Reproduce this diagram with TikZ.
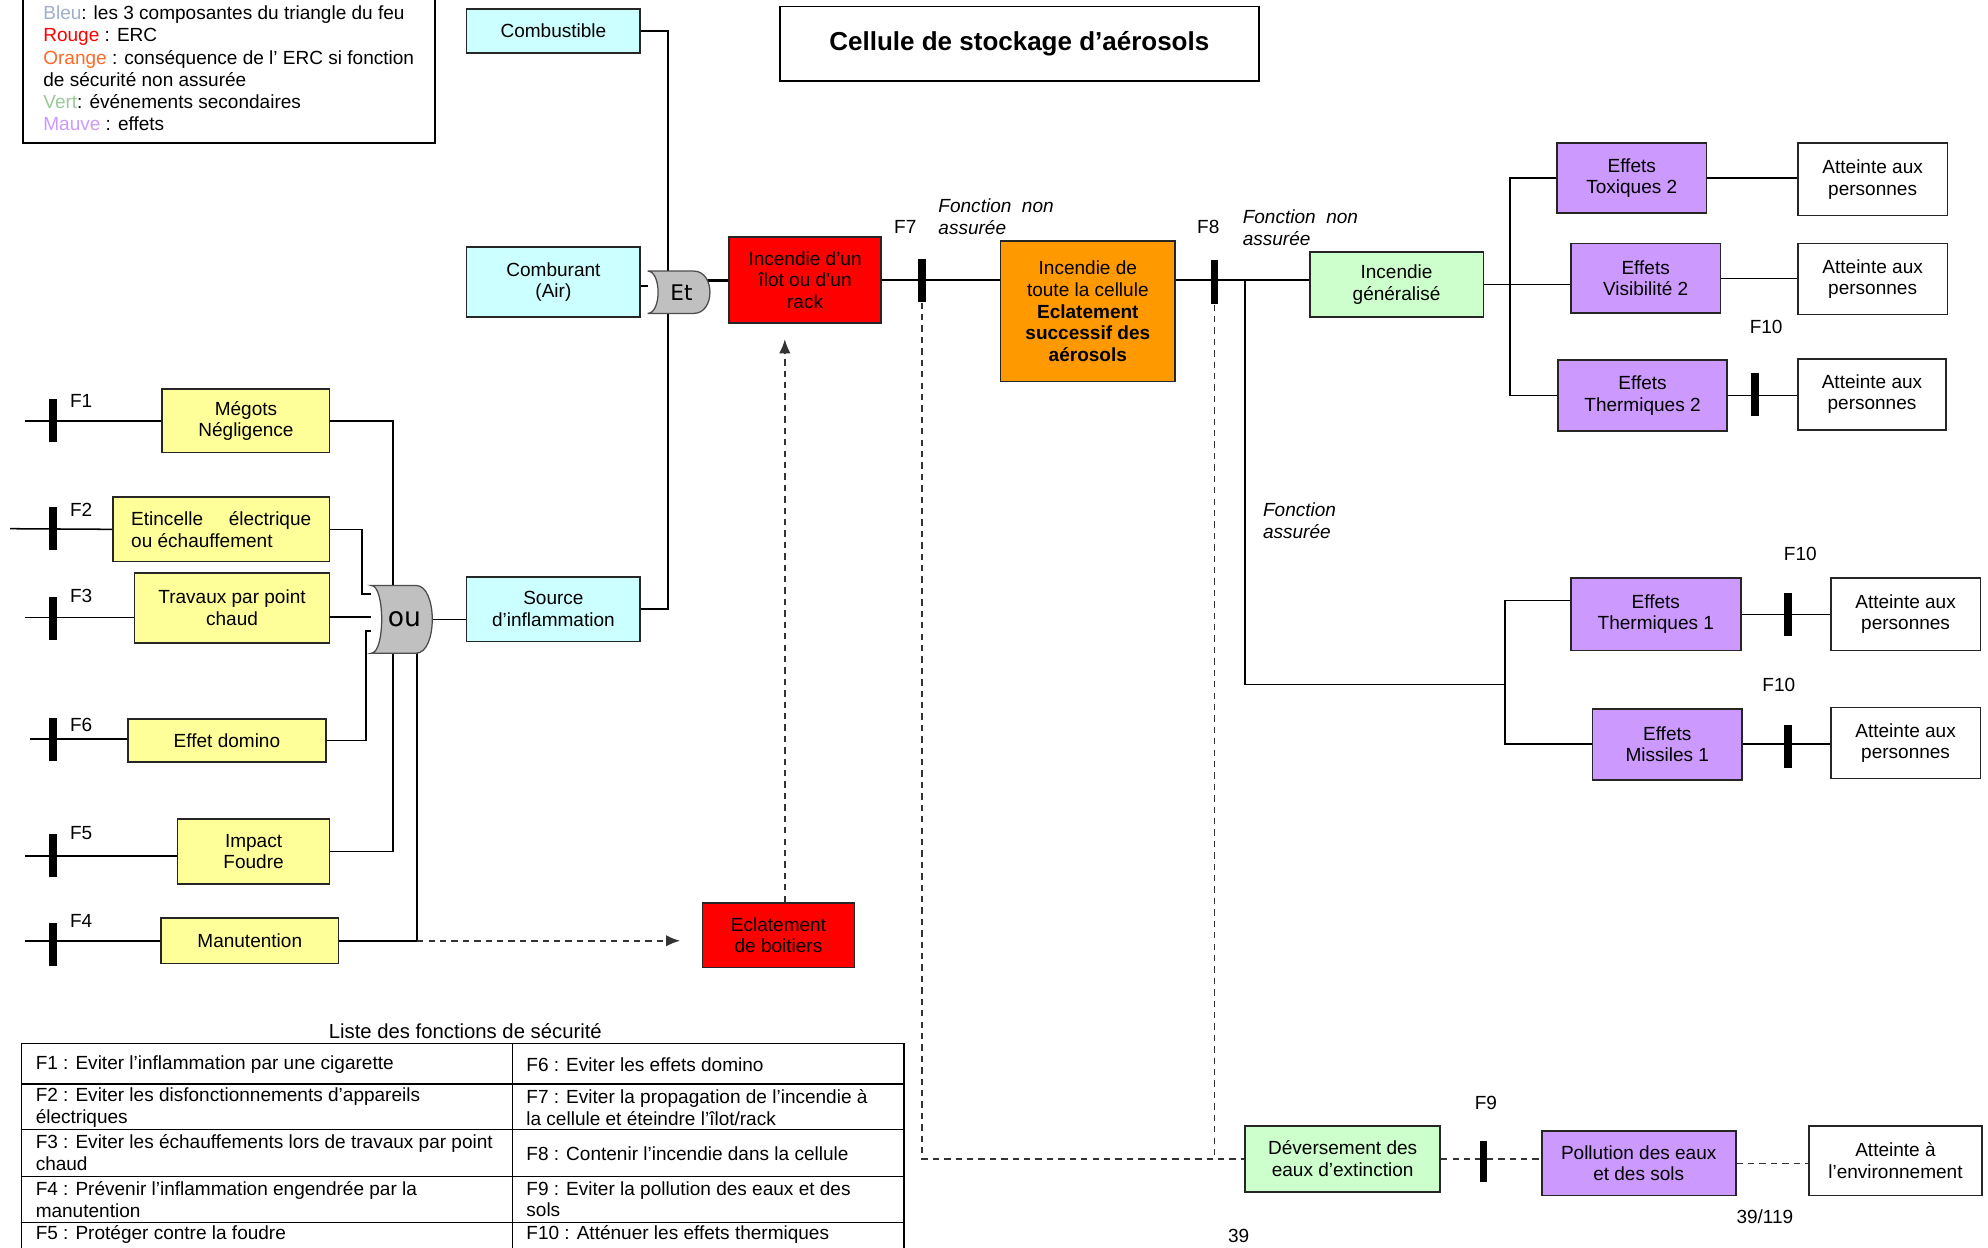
\documentclass[tikz,border=0pt]{standalone}
\usepackage{fontspec}
\setmainfont{Liberation Sans}
\newfontfamily\gatefont{DejaVu Sans}
\usetikzlibrary{arrows.meta, positioning, calc}

\definecolor{BleuComp}{HTML}{CCFFFF}
\definecolor{JauneCause}{HTML}{FFFF99}
\definecolor{RougeERC}{HTML}{FF0000}
\definecolor{OrangeCons}{HTML}{FF9900}
\definecolor{VertSec}{HTML}{CCFFCC}
\definecolor{MauveEff}{HTML}{CC99FF}
\definecolor{GrisPorte}{HTML}{C0C0C0}
\definecolor{LegBleu}{HTML}{9FB0C8}
\definecolor{LegOrange}{HTML}{FF6A2A}
\definecolor{LegVert}{HTML}{9CC99C}

\tikzset{
    boxbase/.style={draw=black!85, line width=1.3pt, align=center, inner sep=2pt,
        font=\fontsize{15}{17}\selectfont},
    dims/.style 2 args={minimum width=#1, minimum height=#2},
    comp/.style={boxbase, fill=BleuComp},
    cause/.style={boxbase, fill=JauneCause},
    erc/.style={boxbase, fill=RougeERC},
    conseq/.style={boxbase, fill=OrangeCons},
    secondaire/.style={boxbase, fill=VertSec},
    effet/.style={boxbase, fill=MauveEff},
    cible/.style={boxbase, fill=white},
    barrier/.style={fill=black, inner sep=0pt, minimum width=6pt, minimum height=34pt},
    flabel/.style={font=\fontsize{15}{17}\selectfont, inner sep=0pt},
    note/.style={font=\fontsize{15}{17}\selectfont\itshape, align=left, inner sep=0pt, anchor=west},
    link/.style={line width=1.2pt, draw=black},
    dashlink/.style={line width=1.2pt, draw=black!80, dash pattern=on 5pt off 4pt},
    gatebox/.style={inner sep=0pt},
    gateshape/.style={fill=GrisPorte, draw=black!70, line width=1pt},
    cell/.style={font=\fontsize{15}{17}\selectfont, align=left, anchor=west, inner sep=0pt}
}

\begin{document}
\begin{tikzpicture}[
    x=1pt, y=-1pt,   % one unit = one pixel of the page, y going down
    >=Latex
]
    \fill[white] (0,0) rectangle (1568,984);
    \useasboundingbox (0,0) rectangle (1568,984);

    % --- 1. Legend and title ---
    \draw[line width=1.3pt] (18,-30) rectangle (343,113);
    \node[align=left, anchor=north west, inner sep=0pt, font=\fontsize{15}{17.5}\selectfont] (legende) at (34,4.5)
        {{\color{LegBleu}Bleu}: les 3 composantes du triangle du feu\\
         {\color{red}Rouge} : ERC\\
         {\color{LegOrange}Orange} : conséquence de l’ ERC si fonction\\
         de sécurité non assurée\\
         {\color{LegVert}Vert}: événements secondaires\\
         {\color{MauveEff}Mauve} : effets};

    \node[draw, line width=1.3pt, dims={378}{59}, font=\fontsize{20.5}{24}\selectfont\bfseries] (titre)
        at (804,34.5) {Cellule de stockage d’aérosols};

    % --- 2. Fire triangle ---
    \node[comp, dims={137}{35}] (comb) at (436.5,24.5) {Combustible};
    \node[comp, dims={137}{55}] (air) at (436.5,222.5) {Comburant\\(Air)};
    \node[comp, dims={137}{51}] (source) at (436.5,480.5) {Source\\d’inflammation};

    % gate placeholders (shapes drawn at the end)
    \node[gatebox, dims={49}{33}] (et) at (535.5,230.5) {};
    \node[gatebox, dims={48}{53}] (ou) at (317,488.5) {};

    % --- 3. Causes of ignition ---
    \node[cause, dims={132}{50}] (megots) at (194,332) {Mégots\\Négligence};
    \node[cause, dims={171}{51}, align=left] (etinc) at (174.5,417.5)
        {\makebox[142pt][s]{Etincelle électrique}\\ou échauffement};
    \node[cause, dims={154}{55}] (travaux) at (183,479.5) {Travaux par point\\chaud};
    \node[cause, dims={156}{34}] (domino) at (179,584) {Effet domino};
    \node[cause, dims={120}{51}] (foudre) at (200,671.5) {Impact\\Foudre};
    \node[cause, dims={140}{36}] (manu) at (197,742) {Manutention};

    % barriers F1..F6
    \node[barrier] (b1) at (42,332) {};
    \node[barrier] (b2) at (42,417) {};
    \node[barrier] (b3) at (42,487.5) {};
    \node[barrier] (b6) at (42,583.5) {};
    \node[barrier] (b5) at (42,675) {};
    \node[barrier] (b4) at (42,745) {};

    \node[flabel] (lf1) at (64,316) {F1};
    \node[flabel] (lf2) at (64,402) {F2};
    \node[flabel] (lf3) at (64,470) {F3};
    \node[flabel] (lf6) at (64,572) {F6};
    \node[flabel] (lf5) at (64,657) {F5};
    \node[flabel] (lf4) at (64,726) {F4};

    % free ends on the left
    \coordinate (e1) at (20,332);
    \coordinate (e2) at (8,417);
    \coordinate (e3) at (20,487);
    \coordinate (e6) at (24,583);
    \coordinate (e5) at (20,675);
    \coordinate (e4) at (20,742);

    \draw[link] (e1) -- (megots.west);
    \draw[link] (e2) -- (etinc.west);
    \draw[link] (e3) -- (e3 -| travaux.west);
    \draw[link] (e6) -- (e6 -| domino.west);
    \draw[link] (e5) -- (e5 -| foudre.west);
    \draw[link] (e4) -- (manu.west);

    % causes into the "ou" gate
    \coordinate (ou4) at ([xshift=12pt]ou.south);
    \draw[link] (megots.east) -| ([xshift=-7pt]ou.north);
    \draw[link] (etinc.east) -- ++(25,0) |- ([yshift=20pt]ou.west);
    \draw[link] ([yshift=-7pt]travaux.east) -- ([yshift=-7pt]travaux.east -| ou.west);
    \draw[link] (domino.east) -- ++(31,0) |- ([yshift=-9pt]ou.west);
    \draw[link] (foudre.east) -| ([xshift=-7pt]ou.south);
    \draw[link] (manu.east) -| (ou4);
    \draw[link] (ou.east) -- (ou.east -| source.west);

    % fire triangle into the "Et" gate
    \coordinate (trunk) at (527,0);
    \draw[link] (comb.east) -- (comb.east -| trunk) -- (source.east -| trunk) -- (source.east);
    \draw[link] ([yshift=-3pt]air.east) -- ([yshift=-3pt]air.east -| et.west);

    % --- 4. Main sequence ---
    \node[erc, dims={120}{68}] (ilot) at (635,221) {Incendie d’un\\îlot ou d’un\\rack};
    \node[erc, dims={120}{51}] (boit) at (614,737.5) {Eclatement\\de boitiers};
    \node[conseq, dims={138}{111}] (cellule) at (858,245.5)
        {Incendie de\\toute la cellule\\\textbf{Eclatement}\\\textbf{successif des}\\\textbf{aérosols}};
    \node[secondaire, dims={137}{51}] (gen) at (1101.5,224.5) {Incendie\\généralisé};

    \draw[line width=2.2pt] (et.center |- ilot.west) -- (ilot.west);
    \draw[link] (ilot.east) -- (ilot.east -| cellule.west);
    \draw[link] (ilot.east -| cellule.east) -- (ilot.east -| gen.west);

    \node[barrier] (b7) at (727,221.5) {};
    \node[barrier, minimum height=35pt] (b8) at (958,222.5) {};
    \node[flabel] (lf7) at (714,179) {F7};
    \node[flabel] (lf8) at (953,179) {F8};
    \node[note] (n7) at (740,171) {Fonction\ \ non\\assurée};
    \node[note] (n8) at (980,179.5) {Fonction\ \ non\\assurée};
    \node[note] (n9) at (996,410.5) {Fonction\\assurée};

    % handling -> bursting of cans -> fire
    \coordinate (bt) at ([xshift=5pt]boit.north);
    \draw[dashlink, -{Latex[length=11pt,width=9pt]}, shorten >=17pt] (ou4 |- manu.east) -- (manu.east -| boit.west);
    \draw[dashlink, -{Latex[length=11pt,width=9pt]}, shorten >=12pt] (bt) -- (bt |- ilot.south);

    % --- 5. Effects ---
    \node[effet, dims={118}{55}] (tox) at (1287,140.5) {Effets\\Toxiques 2};
    \node[effet, dims={118}{55}] (visi) at (1298,219.5) {Effets\\Visibilité 2};
    \node[effet, dims={133}{56}] (therm2) at (1295.5,312) {Effets\\Thermiques 2};
    \node[effet, dims={134}{57}] (therm1) at (1306,484.5) {Effets\\Thermiques 1};
    \node[effet, dims={118}{56}] (missiles) at (1315,587) {Effets\\Missiles 1};

    \node[cible, dims={118}{57}] (pers1) at (1477,141.5) {Atteinte aux\\personnes};
    \node[cible, dims={118}{56}] (pers2) at (1477,220) {Atteinte aux\\personnes};
    \node[cible, dims={117}{56}] (pers3) at (1476.5,311) {Atteinte aux\\personnes};
    \node[cible, dims={118}{57}] (pers4) at (1503,484.5) {Atteinte aux\\personnes};
    \node[cible, dims={118}{56}] (pers5) at (1503,586) {Atteinte aux\\personnes};

    \coordinate (sp2) at (1191,221);
    \draw[link] (gen.east) -- (gen.east -| visi.west);
    \draw[link] (tox.west) -| (sp2) |- (therm2.west);

    \coordinate (fa) at (982,221);
    \coordinate (sp1) at (1187,540);
    \draw[link] (fa) |- (sp1);
    \draw[link] ([yshift=11pt]therm1.west) -| (sp1) |- (missiles.west);

    \draw[link] (tox.east) -- (tox.east -| pers1.west);
    \draw[link] (visi.east) -- (visi.east -| pers2.west);
    \draw[link] (therm2.east) -- (therm2.east -| pers3.west);
    \draw[link] (therm1.east) -- (therm1.east -| pers4.west);
    \draw[link] (missiles.east) -- (missiles.east -| pers5.west);

    \node[barrier] (b10a) at (1384,311.5) {};
    \node[barrier] (b10b) at (1410,484.5) {};
    \node[barrier] (b10c) at (1410,589) {};
    \node[flabel] (lf10a) at (1393,258) {F10};
    \node[flabel] (lf10b) at (1420,437) {F10};
    \node[flabel] (lf10c) at (1403,540) {F10};

    % --- 6. Extinction water ---
    \node[secondaire, dims={154}{52}] (dev) at (1059,914) {Déversement des\\eaux d’extinction};
    \node[effet, dims={153}{51}] (pol) at (1292.5,917.5) {Pollution des eaux\\et des sols};
    \node[cible, dims={136}{55}] (env) at (1495,915.5) {Atteinte à\\l’environnement};

    \draw[dashlink] (b7.south) |- (dev.west);
    \draw[dashlink] (b8.south) -- (b8.south |- dev.west);
    \draw[dashlink] (dev.east) -- (dev.east -| pol.west);
    \draw[dashlink] (pol.east) -- (pol.east -| env.west);

    \node[barrier, minimum height=32pt] (b9) at (1170,916) {};
    \node[flabel] (lf9) at (1172,870) {F9};

    % --- 7. Gates (drawn over the lines) ---
    \foreach \g/\lab/\fs in {et/Et/17, ou/ou/21}{
        \draw[gateshape] (\g.north west) -- ([xshift=-13pt]\g.north east)
            .. controls ([xshift=4pt]\g.north east) and ([xshift=4pt]\g.south east) .. ([xshift=-13pt]\g.south east)
            -- (\g.south west)
            .. controls ([xshift=11pt]\g.south west) and ([xshift=11pt]\g.north west) .. cycle;
        \node[inner sep=0pt, font=\gatefont\fontsize{\fs}{\fs}\selectfont] (\g-txt) at ([xshift=2pt]\g.center) {\lab};
    }

    % --- 8. Table of safety functions ---
    \node[font=\fontsize{16}{18}\selectfont] (liste) at (367,813) {Liste des fonctions de sécurité};
    \draw[line width=1.3pt] (17,823) -- (713,823);
    \foreach \y in {855,891,928,964}
        \draw[line width=1pt] (17,\y) -- (713,\y);
    \draw[line width=1.3pt] (17,823) -- (17,990);
    \draw[line width=1pt] (404,823) -- (404,990);
    \draw[line width=1pt] (713,823) -- (713,990);

    \node[cell] (c1) at (28,840) {F1 : Eviter l’inflammation par une cigarette};
    \node[cell] (c2) at (28,873.5) {F2 : Eviter les disfonctionnements d’appareils\\électriques};
    \node[cell] (c3) at (28,909) {F3 : Eviter les échauffements lors de travaux par point\\chaud};
    \node[cell] (c4) at (28,946) {F4 : Prévenir l’inflammation engendrée par la\\manutention};
    \node[cell] (c5) at (28,974) {F5 : Protéger contre la foudre};
    \node[cell] (c6) at (415,840) {F6 : Eviter les effets domino};
    \node[cell] (c7) at (415,873.5) {F7 : Eviter la propagation de l’incendie à\\la cellule et éteindre l’îlot/rack};
    \node[cell] (c8) at (415,910) {F8 : Contenir l’incendie dans la cellule};
    \node[cell] (c9) at (415,946) {F9 : Eviter la pollution des eaux et des\\sols};
    \node[cell] (c10) at (415,974) {F10 : Atténuer les effets thermiques};

    % page numbers
    \node[flabel] (page1) at (1392,960) {39/119};
    \node[flabel] (page2) at (977,975) {39};

\end{tikzpicture}
\end{document}
